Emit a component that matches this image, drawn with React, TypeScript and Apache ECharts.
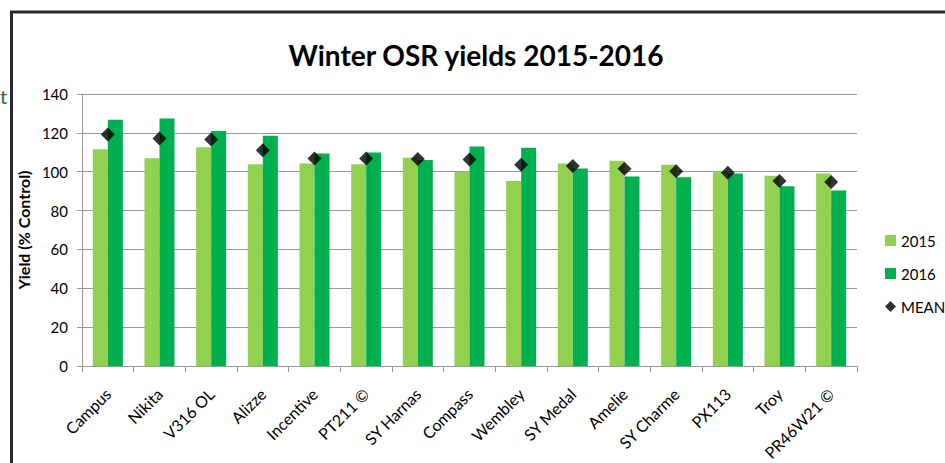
import React, { useEffect, useRef } from "react";
import * as echarts from "echarts";

const categories = [
  "Campus", "Nikita", "V316 OL", "Alizze", "Incentive", "PT211 ©", "SY Harnas",
  "Compass", "Wembley", "SY Medal", "Amelie", "SY Charme", "PX113", "Troy", "PR46W21 ©",
];
const yield2015 = [111.6, 107.0, 112.6, 103.8, 104.3, 103.9, 107.2, 100.0, 95.2, 104.3, 105.6, 103.6, 100.2, 97.9, 99.1];
const yield2016 = [126.7, 127.4, 121.0, 118.5, 109.4, 109.9, 106.0, 113.0, 112.3, 101.7, 97.6, 97.1, 99.1, 92.5, 90.4];
const meanValues = [119.1, 117.1, 116.6, 111.1, 106.8, 106.8, 106.5, 106.3, 103.6, 102.9, 101.5, 100.3, 99.5, 95.2, 94.7];
const yTicks = { min: 0, max: 140, interval: 20 };

const FONT = "Lato, 'Open Sans', sans-serif";

export default function App() {
  const ref = useRef<HTMLDivElement>(null);
  useEffect(() => {
    if (!ref.current) return;
    const chart = echarts.init(ref.current, undefined, { renderer: "svg" });
    chart.setOption({
      animation: false,
      backgroundColor: "#ffffff",
      textStyle: { fontFamily: FONT },
      title: {
        text: "Winter OSR yields 2015-2016",
        left: 471,
        top: 36,
        textAlign: "center",
        textStyle: { fontFamily: FONT, fontSize: 28, fontWeight: "bold", color: "#000" },
      },
      legend: {
        orient: "vertical",
        left: 880,
        top: 228,
        itemWidth: 11,
        itemHeight: 11,
        itemGap: 18,
        textStyle: { fontFamily: FONT, fontSize: 15, color: "#000" },
        data: [
          { name: "2015", icon: "rect" },
          { name: "2016", icon: "rect" },
          { name: "MEAN", icon: "diamond" },
        ],
      },
      grid: { left: 82, right: 88, top: 94, bottom: 96 },
      xAxis: {
        type: "category",
        data: categories,
        axisLine: { lineStyle: { color: "#999999", width: 1 } },
        axisTick: { show: true, length: 6, lineStyle: { color: "#999999" } },
        axisLabel: {
          rotate: 45,
          margin: 25,
          fontFamily: FONT,
          fontSize: 16,
          color: "#000",
          interval: 0,
        },
      },
      yAxis: {
        type: "value",
        min: yTicks.min,
        max: yTicks.max,
        interval: yTicks.interval,
        name: "Yield (% Control)",
        nameLocation: "middle",
        nameGap: 50,
        nameTextStyle: { fontFamily: FONT, fontSize: 16, fontWeight: "bold", color: "#000" },
        axisLine: { show: true, lineStyle: { color: "#999999" } },
        axisTick: { show: true, length: 5, lineStyle: { color: "#999999" } },
        axisLabel: { fontFamily: FONT, fontSize: 15, color: "#000", margin: 14 },
        splitLine: { lineStyle: { color: "#999999", width: 1 } },
      },
      series: [
        {
          name: "2015",
          type: "bar",
          data: yield2015,
          barWidth: 15,
          barGap: "0%",
          itemStyle: { color: "#92D050" },
        },
        {
          name: "2016",
          type: "bar",
          data: yield2016,
          barWidth: 15,
          barGap: "0%",
          itemStyle: { color: "#00B050" },
        },
        {
          name: "MEAN",
          type: "scatter",
          data: meanValues,
          symbol: "diamond",
          symbolSize: 14,
          itemStyle: { color: "#000" },
          z: 5,
        },
      ],
      graphic: [
        {
          type: "line",
          shape: { x1: 10, y1: 12, x2: 945, y2: 12 },
          style: { stroke: "#2b2b2b", lineWidth: 3 },
        },
        {
          type: "line",
          shape: { x1: 11.5, y1: 11, x2: 11.5, y2: 463 },
          style: { stroke: "#2b2b2b", lineWidth: 3 },
        },
        {
          type: "text",
          x: 0,
          y: 86,
          style: { text: "t", fontFamily: FONT, fontSize: 20, fill: "#1d6b4c" },
        },
      ],
    });
    return () => chart.dispose();
  }, []);
  return (
    <div
      ref={ref}
      style={{ position: "fixed", left: 0, top: 0, width: 945, height: 463 }}
    />
  );
}
